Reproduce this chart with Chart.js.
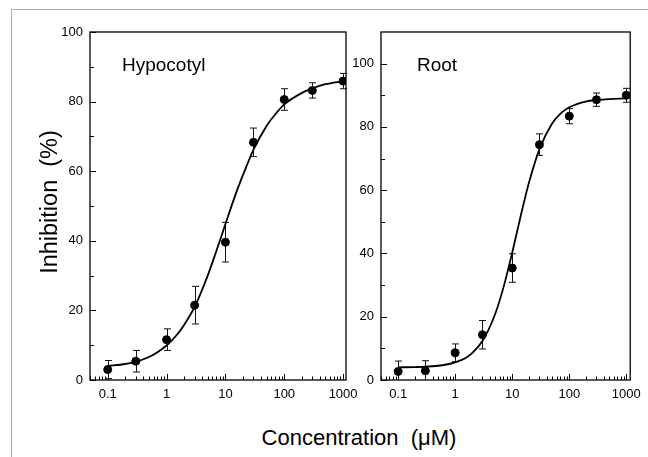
<!DOCTYPE html>
<html>
<head>
<meta charset="utf-8">
<script src="https://cdn.jsdelivr.net/npm/chart.js@4.4.0/dist/chart.umd.min.js"></script>
<style>
  body { margin: 0; background: #fff; width: 648px; height: 457px; overflow: hidden; position: relative; font-family: "Liberation Sans", Arial, sans-serif; color: #000; }
  .frame { position: absolute; left: 11px; top: 9px; width: 660px; height: 470px; border-top: 1.5px solid #adadad; border-left: 1.5px solid #adadad; }
  canvas { position: absolute; top: 0; }
  .lbl { position: absolute; white-space: pre; }
</style>
</head>
<body>
<div class="frame"></div>
<canvas id="hypo" width="372" height="412" style="left:0"></canvas>
<canvas id="root" width="318" height="412" style="left:330px"></canvas>
<div class="lbl" style="left:122px;top:55px;font-size:19px;line-height:19px">Hypocotyl</div>
<div class="lbl" style="left:417px;top:55px;font-size:19px;line-height:19px">Root</div>
<div class="lbl" style="left:159px;top:427px;width:400px;text-align:center;font-size:22px;line-height:22px">Concentration  (μM)</div>
<div class="lbl" style="left:-101px;top:190px;width:300px;height:24px;text-align:center;font-size:23.5px;line-height:24px;transform:rotate(-90deg)">Inhibition  (%)</div>
<script>
// concentrations (µM)
const concX = [0.1, 0.3, 1, 3, 10, 30, 100, 300, 1000];

// hypocotyl inhibition (%) and error bars
const hypoY = [3.0, 5.4, 11.6, 21.5, 39.6, 68.3, 80.6, 83.2, 85.9];
const hypoErr = [2.6, 3.1, 3.1, 5.4, 5.7, 4.1, 3.1, 2.2, 2.2];

// root inhibition (%) and error bars
const rootY = [2.7, 2.9, 8.6, 14.3, 35.4, 74.4, 83.4, 88.6, 90.0];
const rootErr = [3.3, 3.2, 2.8, 4.5, 4.5, 3.4, 2.4, 2.1, 2.2];

// fitted curves
const fitX = [0.1, 0.2, 0.3, 0.5, 0.7, 1, 1.5, 2, 3, 5, 7, 10, 15, 20, 30, 50, 70, 100, 200, 300, 500, 1000];
const hypoFit = [4.0, 4.6, 5.2, 6.6, 8.0, 9.9, 13.0, 15.9, 21.0, 30.0, 37.0, 44.8, 53.5, 59.0, 66.2, 73.0, 76.3, 79.2, 82.5, 83.8, 85.0, 85.9];
const rootFit = [4.0, 4.1, 4.2, 4.5, 4.9, 5.6, 6.9, 8.6, 12.3, 20.8, 29.2, 40.3, 54.0, 62.9, 73.0, 81.1, 84.2, 86.2, 88.1, 88.5, 88.8, 89.0];

// tick labels
const xMajor = [0.1, 1, 10, 100, 1000];
const yMajor = [0, 20, 40, 60, 80, 100];

const tickFont = { family: "Liberation Sans", size: 13 };

// box, inward ticks and error bars
const frameAndBars = {
  id: "frameAndBars",
  beforeDatasetsDraw(chart) {
    const ctx = chart.ctx;
    const a = chart.chartArea;
    const xs = chart.scales.x, ys = chart.scales.y;
    ctx.save();
    ctx.strokeStyle = "#000";
    ctx.lineWidth = 1;
    ctx.beginPath();
    xs.ticks.forEach((t) => {
      const px = Math.round(xs.getPixelForValue(t.value)) + 0.5;
      const len = xMajor.includes(t.value) ? 6 : 3.5;
      ctx.moveTo(px, a.bottom);
      ctx.lineTo(px, a.bottom - len);
    });
    ys.ticks.forEach((t) => {
      if (t.value > 100) return;
      const py = Math.round(ys.getPixelForValue(t.value)) + 0.5;
      const len = yMajor.includes(t.value) ? 6 : 4;
      ctx.moveTo(a.left, py);
      ctx.lineTo(a.left + len, py);
    });
    ctx.stroke();

    // error bars
    const ds = chart.data.datasets[1];
    ctx.lineWidth = 1;
    ctx.strokeStyle = "#111";
    ctx.beginPath();
    ds.data.forEach((p, i) => {
      const px = Math.round(xs.getPixelForValue(p.x)) + 0.5;
      const top = ys.getPixelForValue(p.y + ds.errs[i]);
      const bot = ys.getPixelForValue(Math.max(0, p.y - ds.errs[i]));
      ctx.moveTo(px, top); ctx.lineTo(px, bot);
      ctx.moveTo(px - 3.5, top); ctx.lineTo(px + 3.5, top);
      if (p.y - ds.errs[i] > 0) { ctx.moveTo(px - 3.5, bot); ctx.lineTo(px + 3.5, bot); }
    });
    ctx.stroke();
    ctx.restore();
  },
  afterDraw(chart) {
    const ctx = chart.ctx;
    const a = chart.chartArea;
    ctx.save();
    ctx.strokeStyle = "#000";
    ctx.lineWidth = 1.3;
    ctx.strokeRect(a.left, a.top, a.right - a.left, a.bottom - a.top);
    ctx.restore();
  }
};

function makePanel(id, values, errs, fit, yMax, xMax, yWidth, padRight) {
  const canvas = document.getElementById(id);
  const xTicks = [];
  [0.01, 0.1, 1, 10, 100, 1000].forEach((d) => {
    for (let m = 1; m <= 9; m++) {
      const v = +(d * m).toPrecision(3);
      if (v >= 0.05 && v <= xMax) xTicks.push(v);
    }
  });

  new Chart(canvas, {
    type: "scatter",
    data: {
      datasets: [
        {
          label: "fit",
          data: fitX.map((x, i) => ({ x: x, y: fit[i] })),
          showLine: true,
          borderColor: "#000",
          borderWidth: 1.8,
          pointRadius: 0,
          cubicInterpolationMode: "monotone",
        },
        {
          label: "data",
          data: concX.map((x, i) => ({ x: x, y: values[i] })),
          errs: errs,
          backgroundColor: "#000",
          borderColor: "#000",
          pointRadius: 4,
          pointHoverRadius: 4,
        },
      ],
    },
    options: {
      responsive: false,
      animation: false,
      layout: { padding: { top: 32, right: padRight, left: 0, bottom: 0 } },
      plugins: { legend: { display: false }, tooltip: { enabled: false } },
      scales: {
        x: {
          type: "logarithmic",
          min: 0.05,
          max: xMax,
          grid: { display: false, drawTicks: false },
          border: { display: false },
          afterBuildTicks: (s) => { s.ticks = xTicks.map((v) => ({ value: v })); },
          afterFit: (s) => { s.height = 32; },
          ticks: {
            autoSkip: false,
            maxRotation: 0,
            padding: 7,
            color: "#000",
            font: tickFont,
            callback: (v) => (xMajor.includes(v) ? String(v) : ""),
          },
        },
        y: {
          min: 0,
          max: yMax,
          grid: { display: false, drawTicks: false },
          border: { display: false },
          afterFit: (s) => { s.width = yWidth; },
          ticks: {
            stepSize: 10,
            padding: 7,
            color: "#000",
            font: tickFont,
            callback: (v) => (yMajor.includes(v) ? String(v) : ""),
          },
        },
      },
    },
    plugins: [frameAndBars],
  });
}

makePanel("hypo", hypoY, hypoErr, hypoFit, 100, 1120, 90, 26);
makePanel("root", rootY, rootErr, rootFit, 110, 1170, 51, 14);
</script>
</body>
</html>
